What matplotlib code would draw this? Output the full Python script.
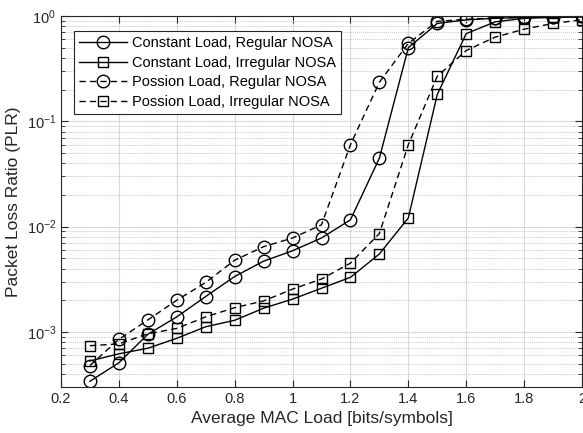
import matplotlib.pyplot as plt
from matplotlib.ticker import LogLocator, NullFormatter, FixedLocator

## Data
## ====
load = [0.3, 0.4, 0.5, 0.6, 0.7, 0.8, 0.9, 1.0, 1.1, 1.2, 1.3, 1.4, 1.5, 1.6, 1.7, 1.8, 1.9, 2.0]

const_regular = [3.4e-4, 5.1e-4, 9.5e-4, 1.39e-3, 2.17e-3, 3.36e-3, 4.7e-3, 5.9e-3, 7.8e-3, 0.0116,
                 0.0447, 0.50, 0.85, 0.92, 0.95, 0.97, 0.98, 0.99]
const_irregular = [5.3e-4, 6.2e-4, 7.0e-4, 8.7e-4, 1.12e-3, 1.29e-3, 1.68e-3, 2.05e-3, 2.6e-3, 3.3e-3,
                   5.5e-3, 0.0121, 0.18, 0.68, 0.88, 0.95, 0.97, 0.98]
poss_regular = [4.8e-4, 8.5e-4, 1.3e-3, 2.0e-3, 2.95e-3, 4.8e-3, 6.45e-3, 7.8e-3, 1.04e-2, 0.060,
                0.235, 0.55, 0.89, 0.93, 0.96, 0.97, 0.98, 0.99]
poss_irregular = [7.4e-4, 7.7e-4, 9.6e-4, 1.08e-3, 1.39e-3, 1.7e-3, 1.97e-3, 2.55e-3, 3.18e-3, 4.5e-3,
                  8.6e-3, 0.060, 0.268, 0.47, 0.63, 0.75, 0.85, 0.92]

labels = ['Constant Load, Regular NOSA', 'Constant Load, Irregular NOSA',
          'Possion Load, Regular NOSA', 'Possion Load, Irregular NOSA']

plt.rcParams['font.family'] = ['Liberation Sans', 'DejaVu Sans']

fig = plt.figure(figsize=(5.83, 4.33), dpi=100)
ax = fig.add_axes([61 / 583, 1 - 387 / 433, 521 / 583, 371 / 433])

dash = (0, (4.5, 3))
ax.plot(load, const_regular, color='black', lw=1, marker='o', ms=9, mfc='none', mew=1, label=labels[0])
ax.plot(load, const_irregular, color='black', lw=1, marker='s', ms=7.5, mfc='none', mew=1, label=labels[1])
ax.plot(load, poss_regular, color='black', lw=1, ls=dash, marker='o', ms=9, mfc='none', mew=1, label=labels[2])
ax.plot(load, poss_irregular, color='black', lw=1, ls=dash, marker='s', ms=7.5, mfc='none', mew=1, label=labels[3])

ax.set_yscale('log')
ax.set_xlim(0.2, 2.0)
ax.set_ylim(3e-4, 1)
ax.xaxis.set_major_locator(FixedLocator([0.2, 0.4, 0.6, 0.8, 1.0, 1.2, 1.4, 1.6, 1.8, 2.0]))
ax.set_xticklabels(['0.2', '0.4', '0.6', '0.8', '1', '1.2', '1.4', '1.6', '1.8', '2'])
ax.yaxis.set_major_locator(LogLocator(base=10, numticks=10))
ax.yaxis.set_minor_locator(LogLocator(base=10, subs=range(2, 10), numticks=20))
ax.yaxis.set_minor_formatter(NullFormatter())

ax.grid(True, which='major', color='#d9d9d9', lw=0.8, ls='-')
ax.grid(True, which='minor', axis='y', color='#c8c8c8', lw=0.7, ls=(0, (1, 1)))
ax.set_axisbelow(True)

ax.tick_params(which='both', direction='in', top=True, right=True, labelsize=10.5, colors='#262626')
ax.tick_params(which='major', length=5)
ax.tick_params(which='minor', length=3)
for s in ax.spines.values():
    s.set_color('#262626')
    s.set_linewidth(0.8)

ax.set_xlabel('Average MAC Load [bits/symbols]', fontsize=12.5, color='#262626')
ax.set_ylabel('Packet Loss Ratio (PLR)', fontsize=12.5, color='#262626')

leg = ax.legend(loc='upper left', bbox_to_anchor=(13 / 521, 1 - 15 / 371), borderaxespad=0,
                fontsize=10.5, handlelength=3.3, handletextpad=0.35,
                fancybox=False, edgecolor='#262626', framealpha=1, borderpad=0.35, labelspacing=0.38)
leg.get_frame().set_linewidth(0.8)

plt.savefig('out.png', dpi=100)
